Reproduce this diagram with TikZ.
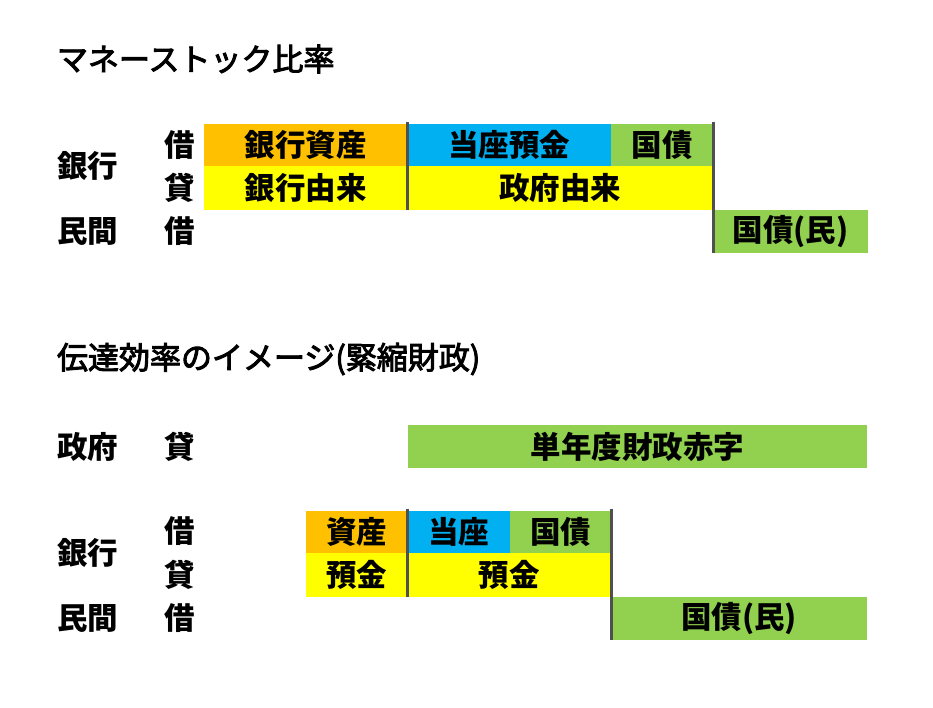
\documentclass[tikz,border=0pt]{standalone}
\usepackage{fontspec}
\setmainfont{Noto Sans CJK JP}
\newfontfamily\jpmed{Noto Sans CJK JP}[FakeBold=3]
\definecolor{orgc}{HTML}{FFC000}
\definecolor{bluc}{HTML}{00B0F0}
\definecolor{grnc}{HTML}{92D050}
\definecolor{yelc}{HTML}{FFFF00}
\definecolor{linc}{HTML}{505050}
\begin{document}
\begin{tikzpicture}[x=1pt,y=-1pt,
  bx/.style={inner sep=0pt, outer sep=0pt, font=\fontsize{30.5}{36}\selectfont\bfseries, text=black, anchor=center},
  lbl/.style={inner sep=0pt, outer sep=0pt, font=\fontsize{30.5}{36}\selectfont\bfseries, anchor=west},
  ttl/.style={inner sep=0pt, outer sep=0pt, font=\fontsize{31}{37}\selectfont\jpmed, anchor=west},
  vl/.style={draw=linc, line width=3pt}]
\useasboundingbox[fill=white] (0,0) rectangle (933,708);

% ---------- top diagram ----------
\node[ttl] (t1) at (57,59) {マネーストック比率};
\node[lbl] (l1) at (57,166) {銀行};
\node[lbl] (l2) at (164,145) {借};
\node[lbl] (l3) at (164,188) {貸};
\node[lbl] (l4) at (57,231) {民間};
\node[lbl] (l5) at (164,231) {借};

\node[bx, fill=orgc, minimum width=203pt, minimum height=42pt] (a1) at (305.5,145) {銀行資産};
\node[bx, fill=bluc, minimum width=204pt, minimum height=42pt] (a2) at (509,145) {当座預金};
\node[bx, fill=grnc, minimum width=102pt, minimum height=42pt] (a3) at (662,145) {国債};
\node[bx, fill=yelc, minimum width=203pt, minimum height=44pt] (b1) at (305.5,188) {銀行由来};
\node[bx, fill=yelc, minimum width=306pt, minimum height=44pt] (b2) at (560,188) {政府由来};
\node[bx, fill=grnc, minimum width=155pt, minimum height=43pt] (c1) at (790.5,231.5) {国債(民)};

\coordinate (v1t) at (407,122);
\coordinate (v2t) at (713,122);
\draw[vl] (v1t) -- (b1.south east);
\draw[vl] (v2t) -- (c1.south west);

% ---------- bottom diagram ----------
\node[ttl] (t2) at (57,359) {伝達効率のイメージ(緊縮財政)};
\node[lbl] (m1) at (57,447) {政府};
\node[lbl] (m2) at (164,447) {貸};
\node[lbl] (m3) at (57,553) {銀行};
\node[lbl] (m4) at (164,531) {借};
\node[lbl] (m5) at (164,575) {貸};
\node[lbl] (m6) at (57,618) {民間};
\node[lbl] (m7) at (164,618) {借};

\node[bx, fill=grnc, minimum width=459pt, minimum height=43pt] (g1) at (637.5,446.5) {単年度財政赤字};
\node[bx, fill=orgc, minimum width=101pt, minimum height=42pt] (d1) at (356.5,532) {資産};
\node[bx, fill=bluc, minimum width=103pt, minimum height=42pt] (d2) at (458.5,532) {当座};
\node[bx, fill=grnc, minimum width=101pt, minimum height=42pt] (d3) at (560.5,532) {国債};
\node[bx, fill=yelc, minimum width=101pt, minimum height=44pt] (e1) at (356.5,575) {預金};
\node[bx, fill=yelc, minimum width=204pt, minimum height=44pt] (e2) at (509,575) {預金};
\node[bx, fill=grnc, minimum width=256pt, minimum height=43pt] (f1) at (739,618.5) {国債(民)};

\coordinate (w1t) at (407,509);
\coordinate (w2t) at (611,509);
\draw[vl] (w1t) -- (e1.south east);
\draw[vl] (w2t) -- (f1.south west);
\end{tikzpicture}
\end{document}
